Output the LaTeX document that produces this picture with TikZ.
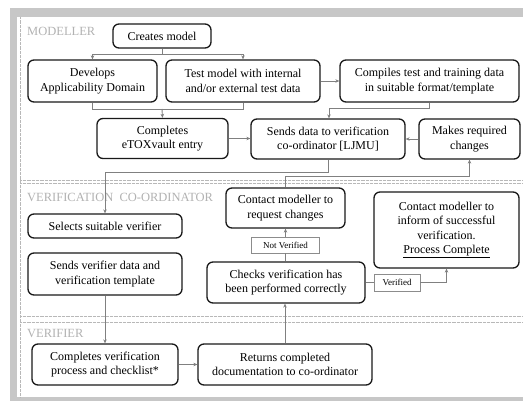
\documentclass[tikz,border=0pt]{standalone}
\usepackage{fontspec}
\setmainfont{Liberation Serif}
\usetikzlibrary{arrows.meta}
\begin{document}
\begin{tikzpicture}[x=1pt,y=-1pt,
  box/.style={draw=black!90, line width=1.3pt, rounded corners=6pt, align=center,
    font=\fontsize{12}{14.5}\selectfont, inner sep=0pt},
  lbl/.style={draw=black!45, line width=0.8pt, fill=white,
    font=\fontsize{9}{10}\selectfont, inner sep=0pt},
  lane/.style={anchor=west, text=black!30, font=\fontsize{12.5}{14}\selectfont, inner sep=0pt},
  conn/.style={draw=black!50, line width=0.9pt},
  arr/.style={conn, -{Stealth[length=4pt,width=3.5pt]}},
  sep/.style={draw=black!28, line width=0.6pt, dash pattern=on 0.5pt off 0.8pt}
]
\useasboundingbox (0,0) rectangle (523,401);
\fill[white] (0,0) rectangle (523,401);
% frame bars
\fill[black!22] (10,8) rectangle (523,17);
\fill[black!22] (10,8) rectangle (17,401);
\fill[black!22] (10,397) rectangle (523,401);
% lane borders
\draw[sep] (20,17) -- (20,397);
\draw[sep] (20,180) -- (523,180);
\draw[sep] (20,183.5) -- (523,183.5);
\draw[sep] (20,316) -- (523,316);
\draw[sep] (20,322) -- (523,322);
% lane labels
\node[lane] (l1) at (27,31) {MODELLER};
\node[lane] (l2) at (27,197) {VERIFICATION\ \ CO-ORDINATOR};
\node[lane] (l3) at (27,334) {VERIFIER};
% boxes
\node[box, minimum width=98pt, minimum height=24pt] (cm) at (162,36) {Creates model};
\node[box, minimum width=129pt, minimum height=42pt] (dev) at (92.5,81) {Develops\\Applicability Domain};
\node[box, minimum width=154pt, minimum height=42pt] (test) at (243,81) {Test model with internal\\and/or external test data};
\node[box, minimum width=179pt, minimum height=42pt] (comp) at (429.5,81) {Compiles test and training data\\in suitable format/template};
\node[box, minimum width=131pt, minimum height=40pt] (etox) at (162.5,138.5) {Completes\\eTOXvault entry};
\node[box, minimum width=154pt, minimum height=40pt] (send) at (328,139) {Sends data to verification\\co-ordinator [LJMU]};
\node[box, minimum width=101pt, minimum height=40pt] (make) at (469.5,139) {Makes required\\changes};
\node[box, minimum width=154pt, minimum height=24pt] (sel) at (105,226) {Selects suitable verifier};
\node[box, minimum width=154pt, minimum height=42pt] (svd) at (105,274) {Sends verifier data and\\verification template};
\node[box, minimum width=119pt, minimum height=40pt] (req) at (285.5,208) {Contact modeller to\\request changes};
\node[box, minimum width=145pt, minimum height=76pt] (inf) at (446.5,230) {Contact modeller to\\inform of successful\\verification.\\\underline{Process Complete}};
\node[box, minimum width=158pt, minimum height=41pt] (chk) at (286,282.5) {Checks verification has\\been performed correctly};
\node[box, minimum width=146pt, minimum height=41pt] (cv) at (105,364.5) {Completes verification\\process and checklist*};
\node[box, minimum width=174pt, minimum height=41pt] (ret) at (285,364.5) {Returns completed\\documentation to co-ordinator};
% label boxes
\node[lbl, minimum width=68pt, minimum height=16pt] (nv) at (285.5,245) {Not Verified};
\node[lbl, minimum width=46pt, minimum height=17pt] (ver) at (397,282.5) {Verified};
% connectors
\coordinate (j1) at (162,54);
\draw[conn] (cm.south) -- (j1);
\draw[arr] (j1) -| (dev.north);
\draw[arr] (j1) -| (test.north);
\coordinate (j2) at (162,109);
\draw[conn] (dev.south) |- (j2);
\draw[conn] (test.south) |- (j2);
\draw[arr] (j2) -- (etox.north);
\draw[arr] (test.east) -- (comp.west);
\coordinate (j3) at (329,108);
\draw[arr] (comp.south) |- (j3) -- (j3 |- send.north);
\draw[arr] (etox.east) -- (etox.east -| send.west);
\draw[arr] (make.west) -- (make.west -| send.east);
\coordinate (j4) at (105,172);
\draw[arr] (send.south) |- (j4) -- (sel.north);
\coordinate (j5) at (285.5,176.5);
\draw[arr] (req.north) -- (j5) -| (make.south);
\draw[conn] (chk.north -| nv) -- (nv.south);
\draw[arr] (nv.north) -- (req.south);
\draw[conn] (chk.east) -- (ver.west);
\draw[arr] (ver.east) -| (inf.south);
\draw[arr] (svd.south) -- (cv.north);
\draw[arr] (cv.east) -- (ret.west);
\draw[arr] (ret.north) -- (ret.north |- chk.south);
\end{tikzpicture}
\end{document}
